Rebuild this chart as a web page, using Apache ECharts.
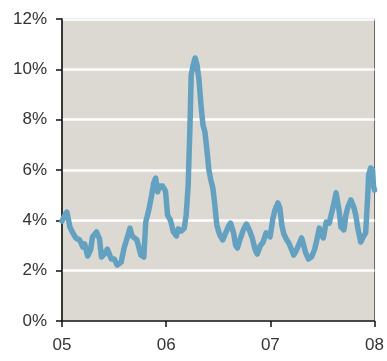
<!DOCTYPE html>
<html>
<head>
<meta charset="utf-8">
<script src="https://cdn.jsdelivr.net/npm/echarts@6/dist/echarts.min.js"></script>
<style>
  html, body { margin: 0; padding: 0; background: #ffffff; }
  #chart { width: 387px; height: 361px; }
</style>
</head>
<body>
<div id="chart"></div>
<script>
// Time in decimal years, rate in percent
const years = [
  2005.000, 2005.028, 2005.047, 2005.057, 2005.076, 2005.104, 2005.132, 2005.170, 2005.199, 2005.218,
  2005.246, 2005.274, 2005.293, 2005.331, 2005.360, 2005.379, 2005.407, 2005.435, 2005.473, 2005.502,
  2005.530, 2005.568, 2005.596, 2005.625, 2005.653, 2005.672, 2005.719, 2005.757, 2005.785, 2005.804,
  2005.833, 2005.861, 2005.880, 2005.899, 2005.918, 2005.937, 2005.965, 2005.994, 2006.013, 2006.041,
  2006.069, 2006.098, 2006.117, 2006.145, 2006.173, 2006.192, 2006.211, 2006.230, 2006.240, 2006.259,
  2006.278, 2006.296, 2006.315, 2006.334, 2006.353, 2006.372, 2006.391, 2006.410, 2006.429, 2006.448,
  2006.467, 2006.486, 2006.514, 2006.543, 2006.571, 2006.599, 2006.618, 2006.647, 2006.666, 2006.684,
  2006.713, 2006.741, 2006.770, 2006.798, 2006.826, 2006.855, 2006.874, 2006.902, 2006.931, 2006.959,
  2006.978, 2006.997, 2007.025, 2007.044, 2007.072, 2007.091, 2007.110, 2007.129, 2007.158, 2007.177,
  2007.205, 2007.224, 2007.252, 2007.271, 2007.300, 2007.319, 2007.337, 2007.366, 2007.394, 2007.423,
  2007.442, 2007.470, 2007.489, 2007.508, 2007.536, 2007.565, 2007.583, 2007.602, 2007.631, 2007.650,
  2007.659, 2007.678, 2007.706, 2007.725, 2007.744, 2007.773, 2007.801, 2007.820, 2007.839, 2007.867,
  2007.886, 2007.915, 2007.934, 2007.943, 2007.962, 2007.981, 2007.990, 2008.000
];
const rates = [
  3.97, 4.21, 4.33, 4.13, 3.73, 3.50, 3.30, 3.22, 2.94, 3.06,
  2.58, 2.82, 3.34, 3.54, 3.26, 2.54, 2.66, 2.86, 2.46, 2.46,
  2.22, 2.34, 2.90, 3.30, 3.69, 3.38, 3.22, 2.62, 2.54, 3.93,
  4.41, 5.01, 5.48, 5.68, 5.13, 5.36, 5.36, 5.16, 4.21, 4.01,
  3.54, 3.38, 3.66, 3.58, 3.69, 4.21, 5.40, 7.99, 9.77, 10.17,
  10.45, 10.17, 9.58, 8.58, 7.79, 7.51, 6.79, 6.00, 5.60, 5.28,
  4.61, 3.81, 3.42, 3.22, 3.50, 3.77, 3.89, 3.50, 3.02, 2.90,
  3.30, 3.62, 3.85, 3.62, 3.30, 2.82, 2.66, 2.98, 3.14, 3.50,
  3.54, 3.34, 4.09, 4.41, 4.69, 4.49, 3.81, 3.46, 3.22, 3.10,
  2.82, 2.62, 2.82, 3.02, 3.30, 3.02, 2.74, 2.46, 2.54, 2.82,
  3.14, 3.69, 3.42, 3.30, 3.93, 3.89, 4.21, 4.53, 5.09, 4.61,
  4.41, 3.73, 3.62, 4.21, 4.53, 4.81, 4.53, 4.21, 3.69, 3.14,
  3.30, 3.50, 4.93, 5.80, 6.08, 6.00, 5.36, 5.20
];
const yTicks = [0, 2, 4, 6, 8, 10, 12];

const chart = echarts.init(document.getElementById('chart'), null, { renderer: 'canvas' });
const labelFont = { fontFamily: 'Liberation Sans, Arial, sans-serif', fontSize: 17, color: '#333333' };

chart.setOption({
  animation: false,
  grid: {
    left: 62, right: 7, top: 19, bottom: 40,
    show: true,
    backgroundColor: '#dcd8d2',
    borderColor: '#666666',
    borderWidth: 1
  },
  xAxis: {
    type: 'value',
    min: 2005, max: 2008, interval: 1,
    axisLine: { show: true, lineStyle: { color: '#111111', width: 1.5 } },
    axisTick: { show: true, length: 6, lineStyle: { color: '#111111', width: 1.5 } },
    axisLabel: Object.assign({ margin: 16, formatter: v => String(Math.round(v)).slice(2) }, labelFont),
    splitLine: { show: false }
  },
  yAxis: {
    type: 'value',
    min: yTicks[0], max: yTicks[yTicks.length - 1], interval: 2,
    axisLine: { show: true, lineStyle: { color: '#111111', width: 1.5 } },
    axisTick: { show: true, length: 6, lineStyle: { color: '#111111', width: 1.5 } },
    axisLabel: Object.assign({ margin: 15, formatter: v => v + '%' }, labelFont),
    splitLine: { show: true, lineStyle: { color: '#ffffff', width: 2.5 } }
  },
  series: [{
    type: 'line',
    data: years.map((y, i) => [y, rates[i]]),
    showSymbol: false,
    smooth: false,
    lineStyle: { color: '#64a1c1', width: 5.5, join: 'round', cap: 'round' },
    clip: true
  }]
});
</script>
</body>
</html>
